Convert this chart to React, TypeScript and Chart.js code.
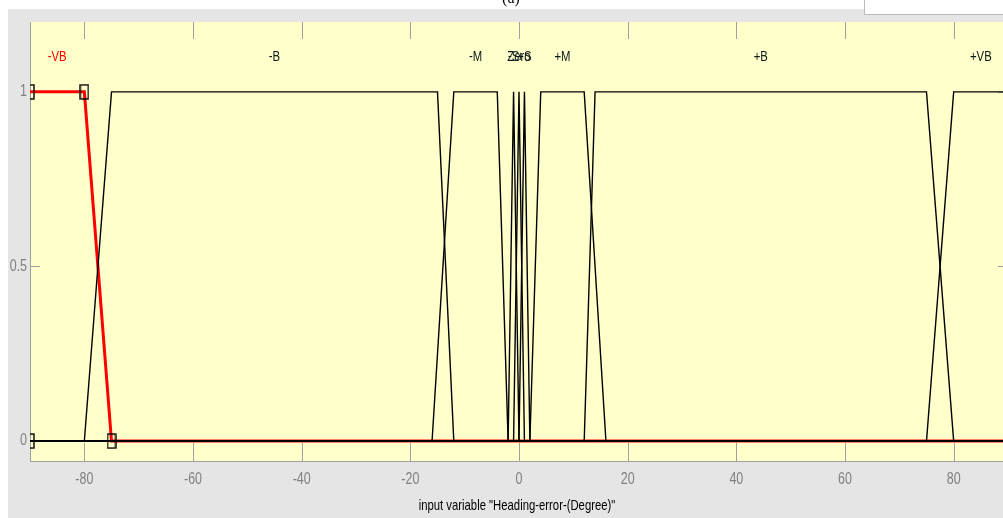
import React, { useEffect, useRef } from "react";
import { Chart, registerables } from "chart.js";

Chart.register(...registerables);

// ---- data ----
const xMin = -90;
const xMax = 90;
const yMin = -0.057;
const yMax = 1.2;

const mfNames = ["-VB", "-B", "-M", "-S", "Zero", "+S", "+M", "+B", "+VB"];
const mfVeryBigNeg = [-90, -90, -80, -75];
const mfBigNeg = [-80, -75, -15, -12];
const mfMedNeg = [-16, -12, -4, -2];
const mfSmallNeg = [-2, -1, -1, 0];
const mfZero = [-1, 0, 0, 1];
const mfSmallPos = [0, 1, 1, 2];
const mfMedPos = [2, 4, 12, 16];
const mfBigPos = [12, 14, 75, 80];
const mfVeryBigPos = [75, 80, 90, 90];
const mfParams = [
  mfVeryBigNeg,
  mfBigNeg,
  mfMedNeg,
  mfSmallNeg,
  mfZero,
  mfSmallPos,
  mfMedPos,
  mfBigPos,
  mfVeryBigPos,
];
const selectedIndex = 0;
const labelLevel = 1.1;

const xTicks = [-80, -60, -40, -20, 0, 20, 40, 60, 80];
const xTickLabels = ["-80", "-60", "-40", "-20", "0", "20", "40", "60", "80"];
const yTicks = [0, 0.5, 1];
const yTickLabels = ["0", "0.5", "1"];
const xTitle = 'input variable "Heading-error-(Degree)"';
const panelCaption = "(a)";

// ---- helpers ----
function trap(x: number, p: number[]) {
  const [a, b, c, d] = p;
  if (x < a || x > d) return 0;
  if (x >= b && x <= c) return 1;
  if (x < b) return (x - a) / (b - a);
  return (d - x) / (d - c);
}
function mfPoints(p: number[]) {
  const xs = Array.from(new Set([xMin, ...p, xMax].filter((v) => v >= xMin && v <= xMax))).sort((u, v) => u - v);
  return xs.map((x) => ({ x, y: trap(x, p) }));
}

const FAMILY = '"Liberation Sans", Arial, sans-serif';
const SX = 0.78;

function narrowText(
  ctx: CanvasRenderingContext2D,
  text: string,
  x: number,
  y: number,
  size: number,
  color: string,
  align: CanvasTextAlign
) {
  ctx.save();
  ctx.font = `${size}px ${FAMILY}`;
  ctx.fillStyle = color;
  ctx.textAlign = align;
  ctx.textBaseline = "middle";
  ctx.translate(x, y);
  ctx.scale(SX, 1);
  ctx.fillText(text, 0, 0);
  ctx.restore();
}

const W = 1020;
const H = 518;

export default function App() {
  const ref = useRef<HTMLCanvasElement | null>(null);

  useEffect(() => {
    const canvas = ref.current!;

    const marker = document.createElement("canvas");
    marker.width = 10;
    marker.height = 16;
    const mctx = marker.getContext("2d")!;
    mctx.strokeStyle = "#000";
    mctx.lineWidth = 1.4;
    mctx.strokeRect(1, 1, 8, 14);

    const datasets: any[] = [];
    mfParams.forEach((p, i) => {
      const sel = i === selectedIndex;
      datasets.push({
        label: mfNames[i],
        data: mfPoints(p),
        showLine: true,
        borderColor: sel ? "#ff0000" : "#000000",
        borderWidth: sel ? 3 : 1.4,
        pointRadius: 0,
        tension: 0,
        order: sel ? 3 : 2,
      });
    });
    const sp = mfParams[selectedIndex];
    datasets.push({
      label: "vertices",
      data: [
        { x: sp[0], y: 0 },
        { x: sp[1], y: 1 },
        { x: sp[2], y: 1 },
        { x: sp[3], y: 0 },
      ],
      showLine: false,
      pointStyle: marker,
      pointRadius: 5,
      clip: 0,
      order: 0,
    });

    const framePlugin = {
      id: "matlabFrame",
      beforeDraw(chart: any) {
        const ctx = chart.ctx;
        const a = chart.chartArea;
        ctx.save();
        ctx.fillStyle = "#ffffff";
        ctx.fillRect(0, 0, W, H);
        ctx.fillStyle = "#e5e5e5";
        ctx.fillRect(8, 9, W - 8, H - 9);
        ctx.fillStyle = "#ffffff";
        ctx.fillRect(864, 0, W - 864, 15);
        ctx.strokeStyle = "#b9b9b9";
        ctx.lineWidth = 1;
        ctx.beginPath();
        ctx.moveTo(864.5, 0);
        ctx.lineTo(864.5, 14.5);
        ctx.lineTo(W, 14.5);
        ctx.stroke();
        ctx.fillStyle = "#000";
        ctx.font = '16px "Liberation Serif", serif';
        ctx.textAlign = "center";
        ctx.textBaseline = "alphabetic";
        ctx.fillText(panelCaption, 511, 3);
        ctx.fillStyle = "#ffffcc";
        ctx.fillRect(a.left, a.top, a.right - a.left, a.bottom - a.top);
        ctx.restore();
      },
      beforeDatasetsDraw(chart: any) {
        const ctx = chart.ctx;
        const a = chart.chartArea;
        const xs = chart.scales.x;
        const ys = chart.scales.y;
        ctx.save();
        ctx.strokeStyle = "#a0a0a0";
        ctx.lineWidth = 1;
        ctx.beginPath();
        xTicks.forEach((v) => {
          const px = Math.round(xs.getPixelForValue(v)) + 0.5;
          ctx.moveTo(px, a.top);
          ctx.lineTo(px, a.top + 17);
          ctx.moveTo(px, a.bottom);
          ctx.lineTo(px, a.bottom - 18);
        });
        yTicks.forEach((v) => {
          const py = Math.round(ys.getPixelForValue(v)) + 0.5;
          ctx.moveTo(a.left, py);
          ctx.lineTo(a.left + 10, py);
          ctx.moveTo(a.right, py);
          ctx.lineTo(a.right - 10, py);
        });
        ctx.stroke();
        ctx.restore();
      },
      afterDatasetsDraw(chart: any) {
        const ctx = chart.ctx;
        const a = chart.chartArea;
        const xs = chart.scales.x;
        const ys = chart.scales.y;
        // membership function names
        mfParams.forEach((p, i) => {
          const cx = (p[1] + p[2]) / 2;
          narrowText(
            ctx,
            mfNames[i],
            xs.getPixelForValue(cx),
            ys.getPixelForValue(labelLevel),
            14.5,
            i === selectedIndex ? "#ff0000" : "#0d1a1a",
            "center"
          );
        });
        // tick labels
        xTicks.forEach((v, i) => {
          narrowText(ctx, xTickLabels[i], xs.getPixelForValue(v), a.bottom + 19, 16, "#808080", "center");
        });
        yTicks.forEach((v, i) => {
          narrowText(ctx, yTickLabels[i], a.left - 3, ys.getPixelForValue(v), 16, "#808080", "right");
        });
        // axis title
        narrowText(ctx, xTitle, (a.left + a.right) / 2 - 2, a.bottom + 45, 14.5, "#000000", "center");
      },
    };

    const chart = new Chart(canvas, {
      type: "scatter",
      data: { datasets },
      options: {
        animation: false,
        responsive: false,
        events: [],
        layout: { padding: { left: 8, top: 22, right: 12, bottom: 0 } },
        plugins: { legend: { display: false }, tooltip: { enabled: false }, title: { display: false } },
        scales: {
          x: {
            type: "linear",
            min: xMin,
            max: xMax,
            afterBuildTicks: (s: any) => {
              s.ticks = xTicks.map((v) => ({ value: v }));
            },
            afterFit: (s: any) => {
              s.height = 57;
            },
            grid: { display: true, drawOnChartArea: false, drawTicks: false },
            border: { display: true, color: "#a0a0a0", width: 1 },
            ticks: { display: false },
          },
          y: {
            type: "linear",
            min: yMin,
            max: yMax,
            afterBuildTicks: (s: any) => {
              s.ticks = yTicks.map((v) => ({ value: v }));
            },
            afterFit: (s: any) => {
              s.width = 22;
            },
            grid: { display: true, drawOnChartArea: false, drawTicks: false },
            border: { display: true, color: "#a0a0a0", width: 1 },
            ticks: { display: false },
          },
        },
      },
      plugins: [framePlugin],
    });
    return () => chart.destroy();
  }, []);

  return (
    <div style={{ position: "fixed", left: 0, top: 0, width: W, height: H, overflow: "hidden" }}>
      <canvas ref={ref} width={W} height={H} style={{ width: W, height: H, display: "block" }} />
    </div>
  );
}
